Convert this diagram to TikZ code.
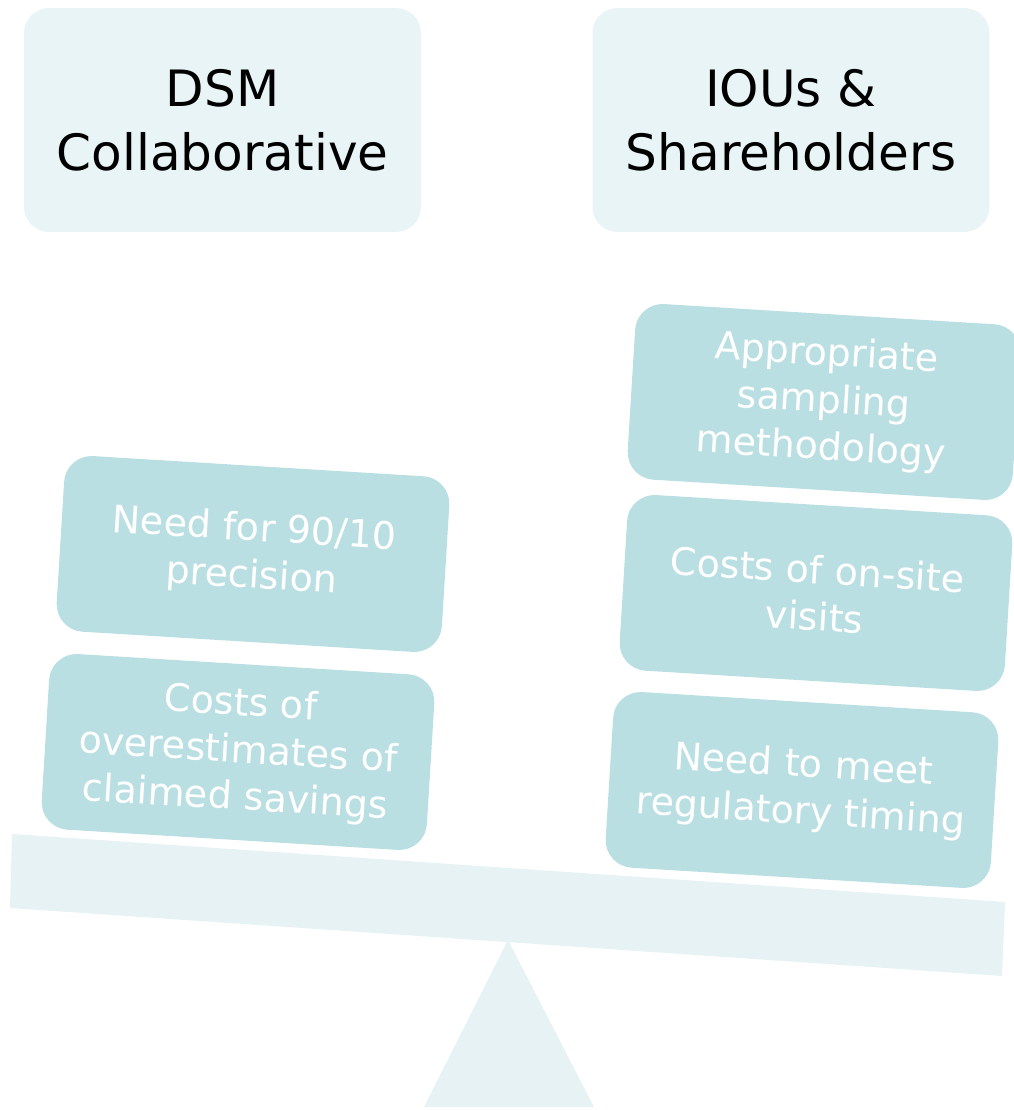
\documentclass[tikz,border=0pt]{standalone}
\usepackage{fontspec}
\setmainfont{DejaVu Sans}
\definecolor{hdrfill}{HTML}{E8F4F5}
\definecolor{boxfill}{HTML}{BADFE2}
\definecolor{beamfill}{HTML}{E6F2F3}

\begin{document}
\begin{tikzpicture}[
  x=0.02cm, y=0.02cm,
  hdr/.style={fill=hdrfill, rounded corners=0.5cm, minimum width=7.94cm,
    minimum height=4.48cm, text=black, align=center,
    font=\fontsize{28.5}{36.4}\selectfont},
  weight/.style={fill=boxfill, rounded corners=0.55cm, rotate=-3.5,
    minimum width=7.72cm, minimum height=3.52cm, text=white, align=center,
    inner sep=4pt, font=\fontsize{21.6}{26.8}\selectfont},
]

% Canvas
\useasboundingbox (0,0) rectangle (1014,1110);
\clip (0,0) rectangle (1014,1110);

% === Scale: fulcrum and beam ===
\coordinate (apex) at (508,170);
\fill[beamfill] (apex) -- (594,3) -- (424,3) -- cycle;
\fill[beamfill] (12,276) -- (1005,208) -- (1002,134) -- (10,202) -- cycle;

% === Headers ===
\node[hdr] (dsm) at (222.5,990) {DSM\\Collaborative};
\node[hdr] (ious) at (791,990) {IOUs \&\\Shareholders};

% === Left pan ===
\node[weight] (precision) at (253,556) {Need for 90/10\\precision};
\node[weight] (overest) at (238,358) {Costs of\\overestimates of\\claimed savings};

% === Right pan ===
\node[weight] (sampling) at (824,708) {Appropriate\\sampling\\methodology};
\node[weight] (onsite) at (816,517) {Costs of on-site\\visits};
\node[weight] (timing) at (802,320) {Need to meet\\regulatory timing};

\end{tikzpicture}
\end{document}
